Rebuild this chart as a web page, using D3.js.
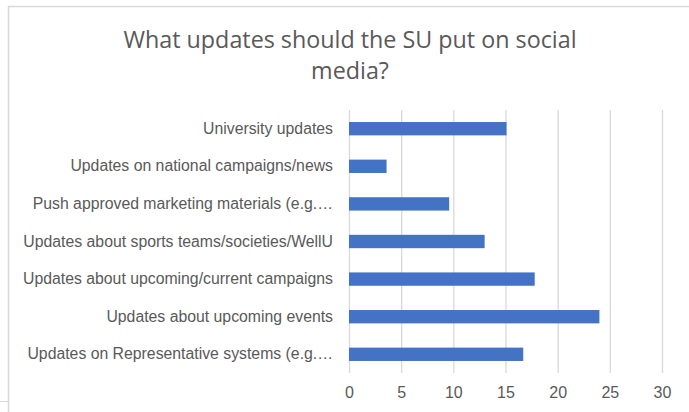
<!DOCTYPE html>
<html>
<head>
<meta charset="utf-8">
<script src="https://cdn.jsdelivr.net/npm/d3@7"></script>
<style>
  body { margin: 0; background: #fff; }
  svg { font-family: "Open Sans", sans-serif; }
  .axis path, .axis line { display: none; }
  .axis text { fill: #595959; }
  .grid line { stroke: #d9d9d9; stroke-width: 1.3; }
  .grid path { display: none; }
  .bar { fill: #4472c4; }
</style>
</head>
<body>
<svg width="689" height="412"></svg>
<script>
var categories = [
  "University updates",
  "Updates on national campaigns/news",
  "Push approved marketing materials (e.g.\u2026",
  "Updates about sports teams/societies/WellU",
  "Updates about upcoming/current campaigns",
  "Updates about upcoming events",
  "Updates on Representative systems (e.g.\u2026"
];
var values = [15.1, 3.6, 9.6, 13.0, 17.8, 24.0, 16.7];
var xTicks = [0, 5, 10, 15, 20, 25, 30];
var titleLines = ["What updates should the SU put on social", "media?"];

var svg = d3.select("svg"),
    margin = {top: 110, right: 27, bottom: 39, left: 349},
    width = +svg.attr("width") - margin.left - margin.right,
    height = +svg.attr("height") - margin.top - margin.bottom;

// chart area border (only top and left edges are visible in the crop)
svg.append("path")
    .attr("d", "M8.5,412V6.5H689")
    .attr("fill", "none")
    .attr("stroke", "#d9d9d9")
    .attr("stroke-width", 1.5);
svg.append("line")
    .attr("x1", 0).attr("x2", 8)
    .attr("y1", 401.5).attr("y2", 401.5)
    .attr("stroke", "#d9d9d9");

svg.append("text")
    .attr("text-anchor", "middle")
    .attr("fill", "#595959")
    .style("font-size", "23.3px")
    .selectAll("tspan")
    .data(titleLines)
    .enter().append("tspan")
    .attr("x", 350)
    .attr("y", function(d, i) { return 48 + i * 31; })
    .text(function(d) { return d; });

var x = d3.scaleLinear().domain([0, 30]).range([0, width]),
    y = d3.scaleBand().domain(categories).range([0, height]).paddingInner(0.645).paddingOuter(0.32);

var g = svg.append("g")
    .attr("transform", "translate(" + margin.left + "," + margin.top + ")");

g.append("g")
    .attr("class", "grid")
    .call(d3.axisBottom(x).tickValues(xTicks).tickSize(height).tickFormat(""));

g.selectAll(".bar")
    .data(values)
    .enter().append("rect")
    .attr("class", "bar")
    .attr("x", 0)
    .attr("y", function(d, i) { return y(categories[i]); })
    .attr("width", function(d) { return x(d); })
    .attr("height", y.bandwidth());

g.append("g")
    .attr("class", "axis axis--x")
    .attr("transform", "translate(0," + height + ")")
    .call(d3.axisBottom(x).tickValues(xTicks).tickSize(0).tickPadding(14))
    .selectAll("text").style("font-size", "16px");

g.append("g")
    .attr("class", "axis axis--y")
    .call(d3.axisLeft(y).tickSize(0).tickPadding(16))
    .selectAll("text").style("font-size", "15.8px");
</script>
</body>
</html>
